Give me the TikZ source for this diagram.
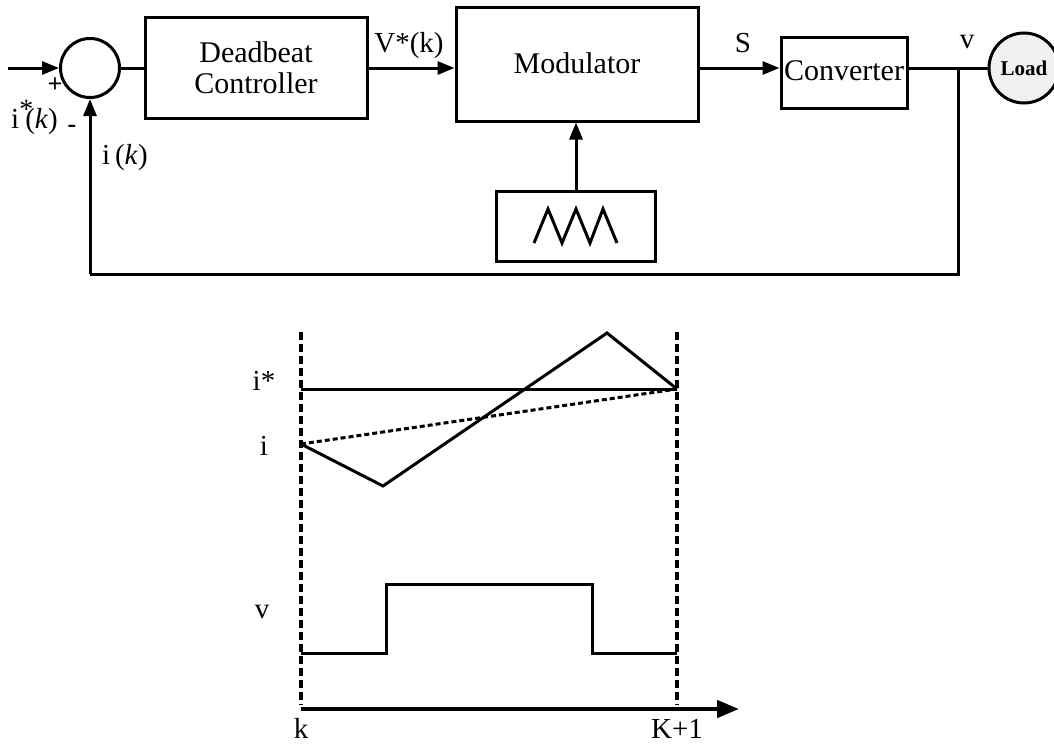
\documentclass[tikz,border=0pt]{standalone}
\usepackage{fontspec}
\setmainfont{Liberation Serif}
\usetikzlibrary{arrows.meta}
\tikzset{
  x=1pt,y=-1pt,
  lw/.style={line width=3pt},
  blk/.style={draw,lw,rectangle,inner sep=0pt,font=\fontsize{30}{34}\selectfont,align=center},
  lbl/.style={inner sep=0pt,font=\fontsize{29}{32}\selectfont},
  arr/.style={lw,-{Triangle[length=17pt,width=13pt]}},
  vdash/.style={line width=3.6pt,dash pattern=on 8pt off 4pt},
}
\begin{document}
\begin{tikzpicture}
\useasboundingbox (0,0) rectangle (1054,744);
% blocks
\node[draw,lw,circle,minimum size=59pt,inner sep=0pt] (sum) at (90,68) {};
\node[blk,minimum width=222pt,minimum height=101pt] (dbc) at (256,67.5) {Deadbeat\\[-3pt]Controller};
\node[blk,minimum width=242pt,minimum height=114pt] (mod) at (577,64) {\raisebox{2pt}{Modulator}};
\node[blk,minimum width=126pt,minimum height=71pt] (conv) at (844,72.5) {\raisebox{4pt}{Converter}};
\node[draw,lw,circle,fill=black!6,minimum size=70pt,inner sep=0pt,font=\fontsize{21}{24}\selectfont\bfseries] (load) at (1024,68) {Load};
\node[draw,lw,rectangle,minimum width=159pt,minimum height=70pt,inner sep=0pt] (ramp) at (576,226) {};
\draw[lw,line join=miter] (534,243) -- (548,209) -- (562,243) -- (576,209) -- (590,243) -- (603,209) -- (617,243);
% connectors
\coordinate (in) at (8,68);
\draw[arr] (in) -- (sum.west);
\draw[lw] (sum.east) -- (dbc.west |- sum.east);
\draw[arr] (dbc.east |- 0,68) -- (mod.west |- 0,68);
\draw[arr] (mod.east |- 0,68) -- (conv.west |- 0,68);
\coordinate (jn) at (958,68);
\draw[lw] (conv.east |- 0,68) -- (load.west);
\draw[arr] (ramp.north) -- (mod.south -| ramp.north);
\coordinate (fb1) at (958,274);
\coordinate (fb2) at (90,274);
\draw[lw,line join=miter] (jn) -- (fb1) -- (fb2);
\draw[arr] (fb2) -- (sum.south);
% labels
\node[inner sep=0pt,font=\fontsize{26}{28}\selectfont\bfseries] (plus) at (55,85) {+};
\node[lbl,anchor=base west] (istar) at (11,128) {i\rlap{\raisebox{10pt}{\fontsize{28}{28}\selectfont *}}\hspace{6pt}(\textit{k})};
\node[inner sep=0pt,font=\fontsize{26}{26}\selectfont\bfseries] (minus) at (72,129) {-};
\node[lbl,anchor=base west] (ik) at (102,164) {i\,(\textit{k})};
\node[lbl] (vk) at (409,46) {V*(k)};
\node[lbl] (s) at (743,43) {S};
\node[lbl] (v) at (967,42) {v};
% lower chart
\coordinate (kt) at (301,332);
\coordinate (kb) at (301,705);
\coordinate (k1t) at (677,332);
\coordinate (k1b) at (677,705);
\draw[vdash] (kt) -- (kb);
\draw[vdash] (k1t) -- (k1b);
\coordinate (a0) at (301,709);
\coordinate (a1) at (739,709);
\draw[line width=4.5pt,-{Triangle[length=22pt,width=17pt]}] (a0) -- (a1);
\coordinate (is0) at (301,389);
\coordinate (is1) at (677,389);
\draw[lw] (is0) -- (is1);
\coordinate (c0) at (301,444);
\coordinate (c1) at (383,486);
\coordinate (c2) at (607,333);
\draw[lw,line join=miter] (c0) -- (c1) -- (c2) -- (is1);
\draw[lw,dash pattern=on 5pt off 3pt] (c0) -- (is1);
\coordinate (v0) at (301,653);
\draw[lw,line join=miter] (v0) -- (386,653) -- (386,584) -- (592,584) -- (592,653) -- (677,653);
\node[lbl] (listar) at (264,381) {i*};
\node[lbl] (li) at (264,446) {i};
\node[lbl] (lv) at (262,612) {v};
\node[lbl,anchor=base] (lk) at (301,738) {k};
\node[lbl,anchor=base] (lk1) at (677,738) {K+1};
\end{tikzpicture}
\end{document}
